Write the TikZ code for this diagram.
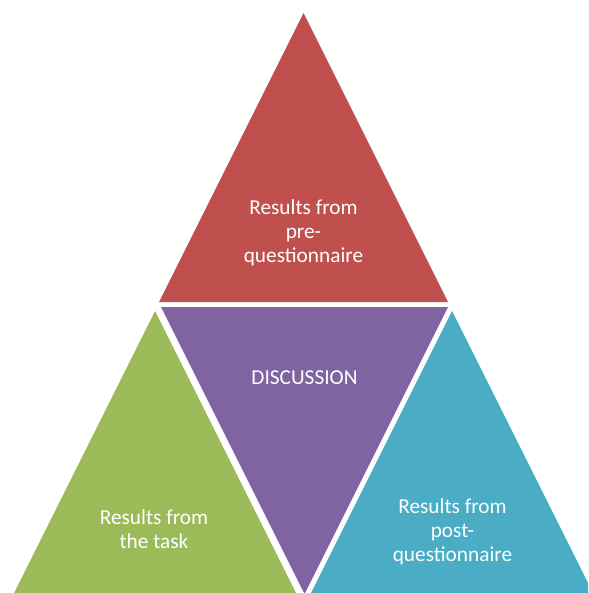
\documentclass[tikz,border=0pt]{standalone}
\usepackage{fontspec}
\setmainfont{Carlito}
\definecolor{tred}{HTML}{C0504D}
\definecolor{tpurple}{HTML}{8064A2}
\definecolor{tgreen}{HTML}{9BBB59}
\definecolor{tblue}{HTML}{4BACC6}
\begin{document}
\begin{tikzpicture}[x=1pt,y=-1pt,
  lbl/.style={text=white,align=center,font=\fontsize{21.3}{24.2}\selectfont,inner sep=0pt}]
\useasboundingbox (0,0) rectangle (588,593);
\begin{scope}
\clip (0,0) rectangle (588,593);
\fill[tred] (303.5,13) -- (159,302) -- (448,302) -- cycle;
\fill[tpurple] (161,307) -- (448,307) -- (304.5,594) -- cycle;
\fill[tgreen] (155,311) -- (14,593) -- (296,593) -- cycle;
\fill[tblue] (452,311) -- (311,593) -- (593,593) -- cycle;
\end{scope}
\node[lbl] (pre) at (303.5,233) {Results from\\pre-\\questionnaire};
\node[lbl] (disc) at (304.5,378) {DISCUSSION};
\node[lbl] (task) at (154,529) {Results from\\the task};
\node[lbl] (post) at (452.5,532) {Results from\\post-\\questionnaire};
\end{tikzpicture}
\end{document}
